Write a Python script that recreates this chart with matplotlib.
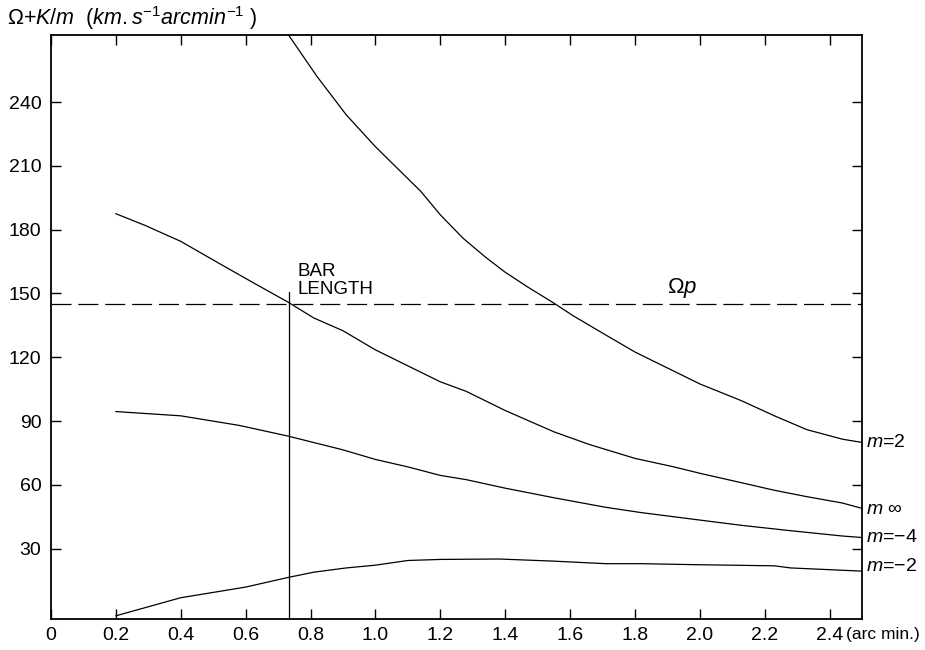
import matplotlib
matplotlib.use('Agg')
import matplotlib.pyplot as plt
from matplotlib.transforms import blended_transform_factory

# values (radius in arc min, Omega + K/m)
x_m2 = [0.73, 0.82, 0.91, 1.0, 1.08, 1.14, 1.2, 1.27, 1.34, 1.4, 1.47, 1.55,
        1.61, 1.71, 1.8, 1.92, 2.0, 2.13, 2.23, 2.33, 2.44, 2.5]
y_m2 = [272, 252, 234, 219, 207, 198, 187, 176, 167, 160, 153, 145.5,
        139.5, 130.5, 122.5, 113.5, 107.5, 99.5, 92.5, 86, 81.5, 80]

x_minf = [0.2, 0.29, 0.4, 0.52, 0.63, 0.73, 0.81, 0.9, 1.0, 1.1, 1.2, 1.28,
          1.4, 1.55, 1.66, 1.8, 1.92, 2.0, 2.13, 2.23, 2.33, 2.44, 2.5]
y_minf = [187.5, 182, 174.5, 164, 154.5, 146, 138.5, 132.5, 123.5, 116, 108.5, 104,
          95, 85, 79, 72.5, 68.5, 65.5, 61, 57.5, 54.5, 51.5, 49]

x_mm4 = [0.2, 0.4, 0.58, 0.73, 0.9, 1.0, 1.1, 1.2, 1.28, 1.4, 1.55, 1.71,
         1.82, 2.0, 2.13, 2.28, 2.44, 2.5]
y_mm4 = [94.5, 92.5, 88, 83, 76.5, 72, 68.5, 64.5, 62.5, 58.5, 54, 49.5,
         47, 43.5, 41, 38.5, 36, 35.3]

x_mm2 = [0.2, 0.4, 0.6, 0.73, 0.81, 0.91, 1.0, 1.1, 1.2, 1.38, 1.55, 1.71,
         1.82, 2.0, 2.23, 2.28, 2.5]
y_mm2 = [-1.5, 7, 12, 16.5, 19, 21, 22.3, 24.5, 25, 25.2, 24.2, 23,
         23, 22.5, 22, 21, 19.5]

curve_labels = ['$m$=2', '$m$ \u221e', '$m$=\u22124', '$m$=\u22122']
label_y = [80, 48.7, 35.3, 21.5]

omega_p = 145
bar_length = 0.735
bar_top = 150.6

x_ticks = [0, 0.2, 0.4, 0.6, 0.8, 1.0, 1.2, 1.4, 1.6, 1.8, 2.0, 2.2, 2.4]
x_ticklabels = ['0', '0.2', '0.4', '0.6', '0.8', '1.0', '1.2', '1.4', '1.6',
                '1.8', '2.0', '2.2', '2.4']
y_ticks = [30, 60, 90, 120, 150, 180, 210, 240]

plt.rcParams['font.family'] = ['Liberation Sans', 'DejaVu Sans']
plt.rcParams['mathtext.fontset'] = 'custom'
plt.rcParams['mathtext.rm'] = 'Liberation Sans'
plt.rcParams['mathtext.it'] = 'Liberation Sans:italic'

fig = plt.figure(figsize=(9.25, 6.5), dpi=100)
ax = fig.add_axes([51 / 925, 1 - 619 / 650, (862 - 51) / 925, (619 - 35) / 650])

ink = 'black'
for xs, ys in [(x_m2, y_m2), (x_minf, y_minf), (x_mm4, y_mm4), (x_mm2, y_mm2)]:
    ax.plot(xs, ys, color=ink, linewidth=0.9)

dash = ax.axhline(omega_p, color=ink, linewidth=0.9)
dash.set_dashes([16, 5.5])

ax.plot([bar_length, bar_length], [-3, bar_top], color=ink, linewidth=0.9)
ax.text(bar_length + 0.025, 148, 'BAR\nLENGTH', fontsize=13.5, ha='left', va='bottom',
        linespacing=1.05)
ax.text(1.9, 150, r'$\Omega p$', fontsize=16, ha='left', va='baseline')

for lab, yv in zip(curve_labels, label_y):
    ax.text(2.512, yv, lab, fontsize=14, ha='left', va='center', clip_on=False)

ax.set_xlim(0, 2.5)
ax.set_ylim(-3, 271.5)
ax.set_xticks(x_ticks)
ax.set_xticklabels(x_ticklabels)
ax.set_yticks(y_ticks)
ax.tick_params(direction='in', length=7, width=1, top=True, right=True,
               labelsize=14, color=ink)
ax.tick_params(axis='x', pad=6)
ax.tick_params(axis='y', pad=7)
for sp in ax.spines.values():
    sp.set_linewidth(1.3)

# unit after the last tick label, as in the original figure
trans = blended_transform_factory(ax.transData, ax.transAxes)
ax.annotate('(arc min.)', xy=(2.45, 0), xycoords=trans, xytext=(0, -6),
            textcoords='offset points', ha='left', va='top', fontsize=12.5,
            annotation_clip=False)

fig.text(7 / 925, 1 - 25 / 650,
         r'$\Omega$+$K/m$  ($km.s^{-1}arcmin^{-1}$ )',
         fontsize=15.5, ha='left', va='baseline')

fig.savefig('out.png', dpi=100)
